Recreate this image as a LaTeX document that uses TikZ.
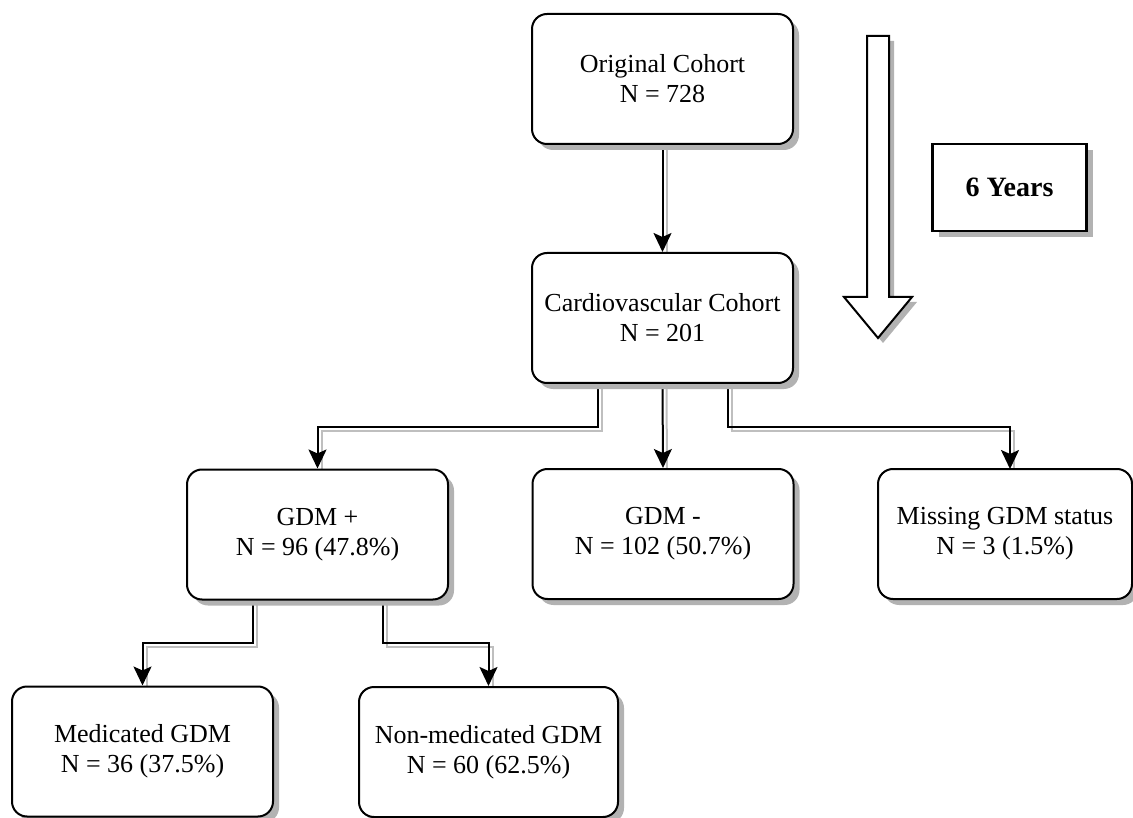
\documentclass[tikz,border=0pt]{standalone}
\usepackage{fontspec}
\setmainfont{Liberation Serif}
\usetikzlibrary{shadows,arrows.meta,backgrounds}
\tikzset{
  box/.style={draw, line width=2pt, rounded corners=15pt, fill=white, align=center,
    minimum width=261pt, minimum height=130pt, inner sep=0pt,
    font=\fontsize{26}{30}\selectfont,
    drop shadow={shadow xshift=6pt, shadow yshift=-6pt, fill=black!30, opacity=1}},
  yearbox/.style={draw, line width=2.2pt, fill=white, align=center,
    minimum width=154pt, minimum height=87pt, inner sep=0pt,
    font=\fontsize{28}{32}\selectfont\bfseries,
    drop shadow={shadow xshift=6pt, shadow yshift=-6pt, fill=black!30, opacity=1}},
  bigarrow/.style={draw, line width=2pt, fill=white,
    drop shadow={shadow xshift=5pt, shadow yshift=-5pt, fill=black!30, opacity=1}},
  conn/.style={line width=2pt, -{Stealth[length=19pt,width=18pt,inset=4pt]}},
  connshadow/.style={line width=2pt, draw=black!25},
}
\newcommand\myconn[1]{%
  \draw[connshadow, transform canvas={shift={(4pt,-4pt)}}] #1;
  \draw[conn] #1;}
\begin{document}
\begin{tikzpicture}[x=1pt, y=-1pt]
\useasboundingbox (0,0) rectangle (1133,818);

\node[box] (orig) at (662.5,79) {Original Cohort\\N = 728};
\node[box] (cardio) at (662.5,318) {Cardiovascular Cohort\\N = 201};
\node[box] (gdmp) at (317.5,534.5) {GDM +\\N = 96 (47.8\%)};
\node[box] (gdmm) at (663,534) {GDM -\\N = 102 (50.7\%)};
\node[box, minimum width=254pt] (miss) at (1005,534) {Missing GDM status\\N = 3 (1.5\%)};
\node[box] (med) at (142.5,751.5) {Medicated GDM\\N = 36 (37.5\%)};
\node[box, minimum width=259pt] (nonmed) at (488.5,752) {Non-medicated GDM\\N = 60 (62.5\%)};
\node[yearbox] (years) at (1009.5,187.5) {6 Years};

\draw[bigarrow] (867,36) -- (889,36) -- (889,297) -- (912,297) -- (878,338)
  -- (844,297) -- (867,297) -- cycle;

\begin{scope}[on background layer]
\coordinate (missin) at (1010,469);
\myconn{(orig.south) -- (cardio.north)}
\myconn{([xshift=-65pt]cardio.south) -- ++(0,43) -| (gdmp.north)}
\myconn{(cardio.south) -- (gdmm.north)}
\myconn{([xshift=65pt]cardio.south) -- ++(0,43) -| (missin)}
\myconn{([xshift=-65pt]gdmp.south) -- ++(0,42) -| (med.north)}
\myconn{([xshift=65pt]gdmp.south) -- ++(0,42) -| (nonmed.north)}
\end{scope}
\end{tikzpicture}
\end{document}
